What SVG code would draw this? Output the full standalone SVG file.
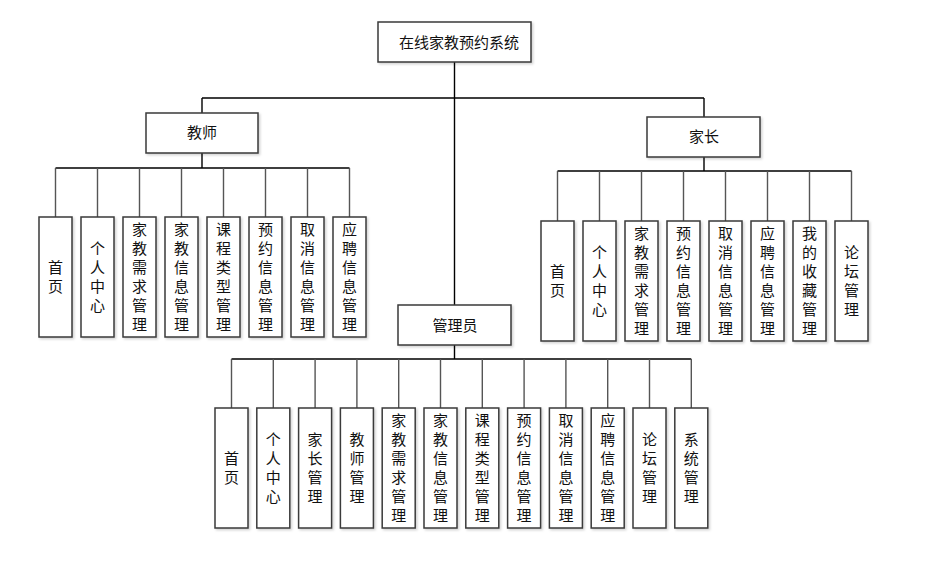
<svg xmlns="http://www.w3.org/2000/svg" width="950" height="562" viewBox="0 0 950 562">
<defs>
<filter id="sh" x="-10%" y="-10%" width="130%" height="130%">
<feDropShadow dx="1.5" dy="1.5" stdDeviation="1" flood-color="#000" flood-opacity="0.18"/>
</filter>
</defs>
<style>
.box{fill:#fff;stroke:#3a3a3a;stroke-width:1.5;filter:url(#sh)}
.ln{fill:none;stroke:#000;stroke-width:1.4}
.lg{fill:none;stroke:#555;stroke-width:1.4}
text{font-family:"Noto Sans CJK SC","Noto Sans CJK JP",sans-serif;font-size:15px;fill:#111;text-anchor:middle}
</style>
<rect width="950" height="562" fill="#fff"/>
<g id="connectors">
<path class="ln" d="M454.5 62 V305 M202 98 H704 M202 98 V113 M704 98 V117"/>
<path class="ln" d="M202 153 V168 M55.5 168 H349.5"/>
<path class="lg" d="M55.5 168 V217 M97.5 168 V217 M139.5 168 V217 M181.5 168 V217 M223.5 168 V217 M265.5 168 V217 M307.5 168 V217 M349.5 168 V217"/>
<path class="ln" d="M704 157 V171 M557.5 171 H851.5"/>
<path class="lg" d="M557.5 171 V221 M599.5 171 V221 M641.5 171 V221 M683.5 171 V221 M725.5 171 V221 M767.5 171 V221 M809.5 171 V221 M851.5 171 V221"/>
<path class="ln" d="M454.5 345 V359 M231.5 359 H691.3"/>
<path class="lg" d="M231.5 359 V408 M273.3 359 V408 M315.1 359 V408 M356.9 359 V408 M398.7 359 V408 M440.5 359 V408 M482.3 359 V408 M524.1 359 V408 M565.9 359 V408 M607.7 359 V408 M649.5 359 V408 M691.3 359 V408"/>
</g>
<g id="root"><rect class="box" x="378" y="22" width="153" height="40"/><text x="459" y="48">在线家教预约系统</text></g>
<g id="teacher"><rect class="box" x="146" y="113" width="112" height="40"/><text x="202" y="138">教师</text></g>
<g id="parent"><rect class="box" x="647" y="117" width="113" height="40"/><text x="704" y="142">家长</text></g>
<g id="admin"><rect class="box" x="398" y="305" width="113" height="40"/><text x="455" y="331">管理员</text></g>

<g id="t1"><rect class="box" x="39" y="217" width="33" height="120"/><text x="55.5" y="273"><tspan x="55.5">首</tspan><tspan x="55.5" dy="19">页</tspan></text></g>
<g id="t2"><rect class="box" x="81" y="217" width="33" height="120"/><text x="97.5" y="254"><tspan x="97.5">个</tspan><tspan x="97.5" dy="19">人</tspan><tspan x="97.5" dy="19">中</tspan><tspan x="97.5" dy="19">心</tspan></text></g>
<g id="t3"><rect class="box" x="123" y="217" width="33" height="120"/><text x="139.5" y="235"><tspan x="139.5">家</tspan><tspan x="139.5" dy="19">教</tspan><tspan x="139.5" dy="19">需</tspan><tspan x="139.5" dy="19">求</tspan><tspan x="139.5" dy="19">管</tspan><tspan x="139.5" dy="19">理</tspan></text></g>
<g id="t4"><rect class="box" x="165" y="217" width="33" height="120"/><text x="181.5" y="235"><tspan x="181.5">家</tspan><tspan x="181.5" dy="19">教</tspan><tspan x="181.5" dy="19">信</tspan><tspan x="181.5" dy="19">息</tspan><tspan x="181.5" dy="19">管</tspan><tspan x="181.5" dy="19">理</tspan></text></g>
<g id="t5"><rect class="box" x="207" y="217" width="33" height="120"/><text x="223.5" y="235"><tspan x="223.5">课</tspan><tspan x="223.5" dy="19">程</tspan><tspan x="223.5" dy="19">类</tspan><tspan x="223.5" dy="19">型</tspan><tspan x="223.5" dy="19">管</tspan><tspan x="223.5" dy="19">理</tspan></text></g>
<g id="t6"><rect class="box" x="249" y="217" width="33" height="120"/><text x="265.5" y="235"><tspan x="265.5">预</tspan><tspan x="265.5" dy="19">约</tspan><tspan x="265.5" dy="19">信</tspan><tspan x="265.5" dy="19">息</tspan><tspan x="265.5" dy="19">管</tspan><tspan x="265.5" dy="19">理</tspan></text></g>
<g id="t7"><rect class="box" x="291" y="217" width="33" height="120"/><text x="307.5" y="235"><tspan x="307.5">取</tspan><tspan x="307.5" dy="19">消</tspan><tspan x="307.5" dy="19">信</tspan><tspan x="307.5" dy="19">息</tspan><tspan x="307.5" dy="19">管</tspan><tspan x="307.5" dy="19">理</tspan></text></g>
<g id="t8"><rect class="box" x="333" y="217" width="33" height="120"/><text x="349.5" y="235"><tspan x="349.5">应</tspan><tspan x="349.5" dy="19">聘</tspan><tspan x="349.5" dy="19">信</tspan><tspan x="349.5" dy="19">息</tspan><tspan x="349.5" dy="19">管</tspan><tspan x="349.5" dy="19">理</tspan></text></g>

<g id="p1"><rect class="box" x="541" y="221" width="33" height="120"/><text x="557.5" y="277"><tspan x="557.5">首</tspan><tspan x="557.5" dy="19">页</tspan></text></g>
<g id="p2"><rect class="box" x="583" y="221" width="33" height="120"/><text x="599.5" y="258"><tspan x="599.5">个</tspan><tspan x="599.5" dy="19">人</tspan><tspan x="599.5" dy="19">中</tspan><tspan x="599.5" dy="19">心</tspan></text></g>
<g id="p3"><rect class="box" x="625" y="221" width="33" height="120"/><text x="641.5" y="239"><tspan x="641.5">家</tspan><tspan x="641.5" dy="19">教</tspan><tspan x="641.5" dy="19">需</tspan><tspan x="641.5" dy="19">求</tspan><tspan x="641.5" dy="19">管</tspan><tspan x="641.5" dy="19">理</tspan></text></g>
<g id="p4"><rect class="box" x="667" y="221" width="33" height="120"/><text x="683.5" y="239"><tspan x="683.5">预</tspan><tspan x="683.5" dy="19">约</tspan><tspan x="683.5" dy="19">信</tspan><tspan x="683.5" dy="19">息</tspan><tspan x="683.5" dy="19">管</tspan><tspan x="683.5" dy="19">理</tspan></text></g>
<g id="p5"><rect class="box" x="709" y="221" width="33" height="120"/><text x="725.5" y="239"><tspan x="725.5">取</tspan><tspan x="725.5" dy="19">消</tspan><tspan x="725.5" dy="19">信</tspan><tspan x="725.5" dy="19">息</tspan><tspan x="725.5" dy="19">管</tspan><tspan x="725.5" dy="19">理</tspan></text></g>
<g id="p6"><rect class="box" x="751" y="221" width="33" height="120"/><text x="767.5" y="239"><tspan x="767.5">应</tspan><tspan x="767.5" dy="19">聘</tspan><tspan x="767.5" dy="19">信</tspan><tspan x="767.5" dy="19">息</tspan><tspan x="767.5" dy="19">管</tspan><tspan x="767.5" dy="19">理</tspan></text></g>
<g id="p7"><rect class="box" x="793" y="221" width="33" height="120"/><text x="809.5" y="239"><tspan x="809.5">我</tspan><tspan x="809.5" dy="19">的</tspan><tspan x="809.5" dy="19">收</tspan><tspan x="809.5" dy="19">藏</tspan><tspan x="809.5" dy="19">管</tspan><tspan x="809.5" dy="19">理</tspan></text></g>
<g id="p8"><rect class="box" x="835" y="221" width="33" height="120"/><text x="851.5" y="258"><tspan x="851.5">论</tspan><tspan x="851.5" dy="19">坛</tspan><tspan x="851.5" dy="19">管</tspan><tspan x="851.5" dy="19">理</tspan></text></g>

<g id="a1"><rect class="box" x="215" y="408" width="33" height="120"/><text x="231.5" y="464"><tspan x="231.5">首</tspan><tspan x="231.5" dy="19">页</tspan></text></g>
<g id="a2"><rect class="box" x="256.8" y="408" width="33" height="120"/><text x="273.3" y="445"><tspan x="273.3">个</tspan><tspan x="273.3" dy="19">人</tspan><tspan x="273.3" dy="19">中</tspan><tspan x="273.3" dy="19">心</tspan></text></g>
<g id="a3"><rect class="box" x="298.6" y="408" width="33" height="120"/><text x="315.1" y="445"><tspan x="315.1">家</tspan><tspan x="315.1" dy="19">长</tspan><tspan x="315.1" dy="19">管</tspan><tspan x="315.1" dy="19">理</tspan></text></g>
<g id="a4"><rect class="box" x="340.4" y="408" width="33" height="120"/><text x="356.9" y="445"><tspan x="356.9">教</tspan><tspan x="356.9" dy="19">师</tspan><tspan x="356.9" dy="19">管</tspan><tspan x="356.9" dy="19">理</tspan></text></g>
<g id="a5"><rect class="box" x="382.2" y="408" width="33" height="120"/><text x="398.7" y="426"><tspan x="398.7">家</tspan><tspan x="398.7" dy="19">教</tspan><tspan x="398.7" dy="19">需</tspan><tspan x="398.7" dy="19">求</tspan><tspan x="398.7" dy="19">管</tspan><tspan x="398.7" dy="19">理</tspan></text></g>
<g id="a6"><rect class="box" x="424" y="408" width="33" height="120"/><text x="440.5" y="426"><tspan x="440.5">家</tspan><tspan x="440.5" dy="19">教</tspan><tspan x="440.5" dy="19">信</tspan><tspan x="440.5" dy="19">息</tspan><tspan x="440.5" dy="19">管</tspan><tspan x="440.5" dy="19">理</tspan></text></g>
<g id="a7"><rect class="box" x="465.8" y="408" width="33" height="120"/><text x="482.3" y="426"><tspan x="482.3">课</tspan><tspan x="482.3" dy="19">程</tspan><tspan x="482.3" dy="19">类</tspan><tspan x="482.3" dy="19">型</tspan><tspan x="482.3" dy="19">管</tspan><tspan x="482.3" dy="19">理</tspan></text></g>
<g id="a8"><rect class="box" x="507.6" y="408" width="33" height="120"/><text x="524.1" y="426"><tspan x="524.1">预</tspan><tspan x="524.1" dy="19">约</tspan><tspan x="524.1" dy="19">信</tspan><tspan x="524.1" dy="19">息</tspan><tspan x="524.1" dy="19">管</tspan><tspan x="524.1" dy="19">理</tspan></text></g>
<g id="a9"><rect class="box" x="549.4" y="408" width="33" height="120"/><text x="565.9" y="426"><tspan x="565.9">取</tspan><tspan x="565.9" dy="19">消</tspan><tspan x="565.9" dy="19">信</tspan><tspan x="565.9" dy="19">息</tspan><tspan x="565.9" dy="19">管</tspan><tspan x="565.9" dy="19">理</tspan></text></g>
<g id="a10"><rect class="box" x="591.2" y="408" width="33" height="120"/><text x="607.7" y="426"><tspan x="607.7">应</tspan><tspan x="607.7" dy="19">聘</tspan><tspan x="607.7" dy="19">信</tspan><tspan x="607.7" dy="19">息</tspan><tspan x="607.7" dy="19">管</tspan><tspan x="607.7" dy="19">理</tspan></text></g>
<g id="a11"><rect class="box" x="633" y="408" width="33" height="120"/><text x="649.5" y="445"><tspan x="649.5">论</tspan><tspan x="649.5" dy="19">坛</tspan><tspan x="649.5" dy="19">管</tspan><tspan x="649.5" dy="19">理</tspan></text></g>
<g id="a12"><rect class="box" x="674.8" y="408" width="33" height="120"/><text x="691.3" y="445"><tspan x="691.3">系</tspan><tspan x="691.3" dy="19">统</tspan><tspan x="691.3" dy="19">管</tspan><tspan x="691.3" dy="19">理</tspan></text></g>
</svg>
